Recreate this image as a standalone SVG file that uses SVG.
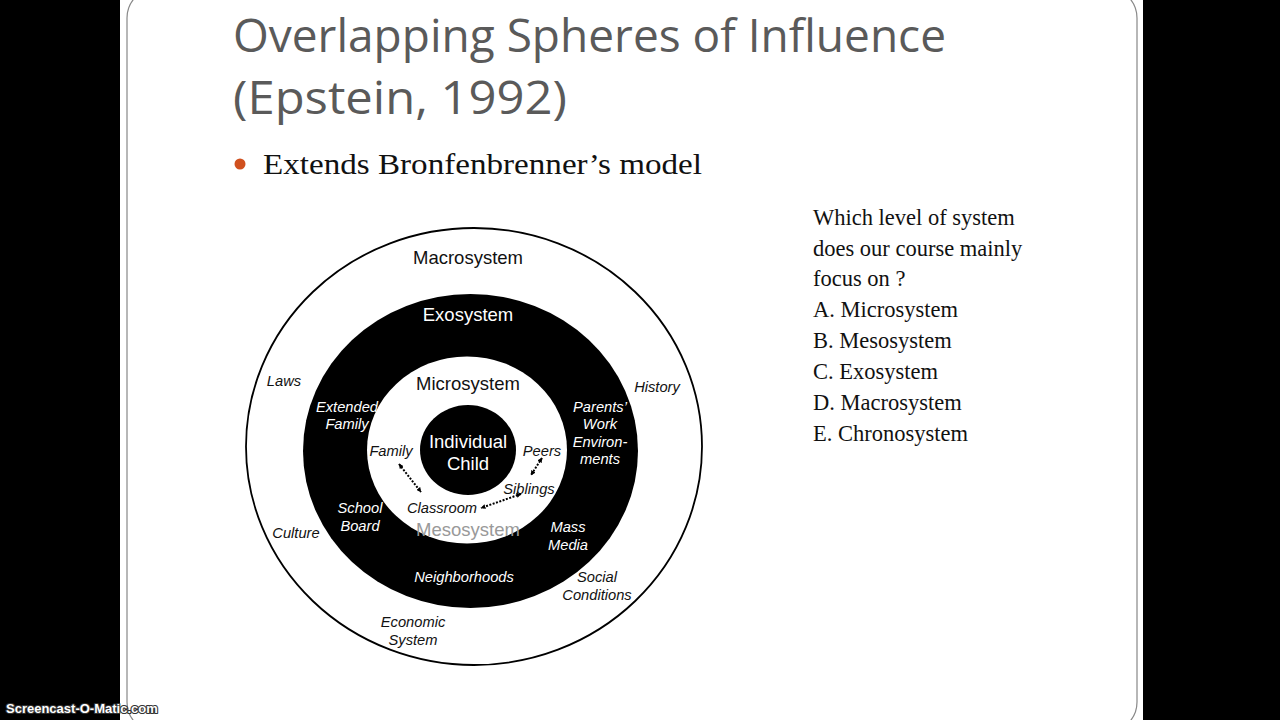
<svg xmlns="http://www.w3.org/2000/svg" width="1280" height="720" viewBox="0 0 1280 720">
<defs>
<marker id="ah" viewBox="0 0 10 10" refX="9" refY="5" markerWidth="5" markerHeight="5" orient="auto-start-reverse" markerUnits="userSpaceOnUse"><path d="M0,0 L10,5 L0,10 z" fill="#000"/></marker>
<style>
.lab{font-family:"Liberation Sans",Arial,sans-serif;font-style:italic;font-size:14.7px;text-anchor:middle}
.w{fill:#fff}
.k{fill:#111}
.big{font-family:"Liberation Sans",Arial,sans-serif;font-size:18.5px;text-anchor:middle}
.q{font-family:"Liberation Serif","Times New Roman",serif;font-size:22.5px;fill:#111}
.conn{stroke:#000;stroke-width:2;stroke-dasharray:2 1.5;fill:none}
</style>
</defs>
<rect x="0" y="0" width="1280" height="720" fill="#000"/>
<rect x="120" y="0" width="1023" height="720" fill="#fff"/>
<rect x="127" y="-12" width="1010" height="744" rx="30" ry="30" fill="none" stroke="#888" stroke-width="1.2"/>
<g id="title">
<text x="233" y="52" font-family="'Open Sans','Liberation Sans',sans-serif" font-size="45" fill="#5a5a5a" textLength="713" lengthAdjust="spacingAndGlyphs">Overlapping Spheres of Influence</text>
<text x="233" y="114" font-family="'Open Sans','Liberation Sans',sans-serif" font-size="45" fill="#5a5a5a" textLength="334" lengthAdjust="spacingAndGlyphs">(Epstein, 1992)</text>
</g>
<g id="bullet">
<circle cx="240" cy="164" r="5.5" fill="#d0501e"/>
<text x="263" y="174" font-family="'Liberation Serif','Times New Roman',serif" font-size="29" fill="#111" textLength="439" lengthAdjust="spacingAndGlyphs">Extends Bronfenbrenner’s model</text>
</g>
<g id="question">
<text class="q" x="813" y="225">Which level of system</text>
<text class="q" x="813" y="256">does our course mainly</text>
<text class="q" x="813" y="286">focus on ?</text>
<text class="q" x="813" y="317">A. Microsystem</text>
<text class="q" x="813" y="348">B. Mesosystem</text>
<text class="q" x="813" y="379">C. Exosystem</text>
<text class="q" x="813" y="410">D. Macrosystem</text>
<text class="q" x="813" y="441">E. Chronosystem</text>
</g>
<g id="macrosystem">
<ellipse cx="474" cy="446.5" rx="228" ry="218.5" fill="#fff" stroke="#000" stroke-width="1.8"/>
<text class="big k" x="468" y="264">Macrosystem</text>
<text class="lab k" x="284" y="386">Laws</text>
<text class="lab k" x="657" y="392">History</text>
<text class="lab k" x="296" y="538">Culture</text>
<text class="lab k" x="597" y="582">Social</text>
<text class="lab k" x="597" y="600">Conditions</text>
<text class="lab k" x="413" y="627">Economic</text>
<text class="lab k" x="413" y="645">System</text>
</g>
<g id="exosystem">
<ellipse cx="470.5" cy="451" rx="167.5" ry="157" fill="#000"/>
<text class="big w" x="468" y="321">Exosystem</text>
<text class="lab w" x="347" y="412">Extended</text>
<text class="lab w" x="347" y="429">Family</text>
<text class="lab w" x="600" y="412">Parents’</text>
<text class="lab w" x="600" y="429">Work</text>
<text class="lab w" x="600" y="447">Environ-</text>
<text class="lab w" x="600" y="464">ments</text>
<text class="lab w" x="360" y="513">School</text>
<text class="lab w" x="360" y="531">Board</text>
<text class="lab w" x="568" y="532">Mass</text>
<text class="lab w" x="568" y="550">Media</text>
<text class="lab w" x="464" y="582">Neighborhoods</text>
</g>
<g id="microsystem">
<ellipse cx="467" cy="450" rx="100" ry="93.5" fill="#fff"/>
<text class="big k" x="468" y="390">Microsystem</text>
<text class="lab k" x="391" y="456">Family</text>
<text class="lab k" x="542" y="456">Peers</text>
<text class="lab k" x="529" y="494">Siblings</text>
<text class="lab k" x="442" y="513">Classroom</text>
<text class="big" x="468" y="536" fill="#999">Mesosystem</text>
</g>
<g id="child">
<ellipse cx="468" cy="450" rx="48" ry="45" fill="#000"/>
<text class="big w" x="468" y="448">Individual</text>
<text class="big w" x="468" y="470">Child</text>
</g>
<g id="connectors">
<line class="conn" x1="399" y1="464" x2="421" y2="492" marker-start="url(#ah)" marker-end="url(#ah)"/>
<line class="conn" x1="542" y1="458" x2="531" y2="475" marker-start="url(#ah)" marker-end="url(#ah)"/>
<line class="conn" x1="521" y1="494" x2="481" y2="508" marker-start="url(#ah)" marker-end="url(#ah)"/>
</g>
<g id="watermark">
<text x="6" y="713" font-family="'Liberation Sans',Arial,sans-serif" font-weight="bold" font-size="13" fill="#fff" stroke="#333" stroke-width="2.2" stroke-linejoin="round" paint-order="stroke">Screencast-O-Matic.com</text>
</g>
</svg>
